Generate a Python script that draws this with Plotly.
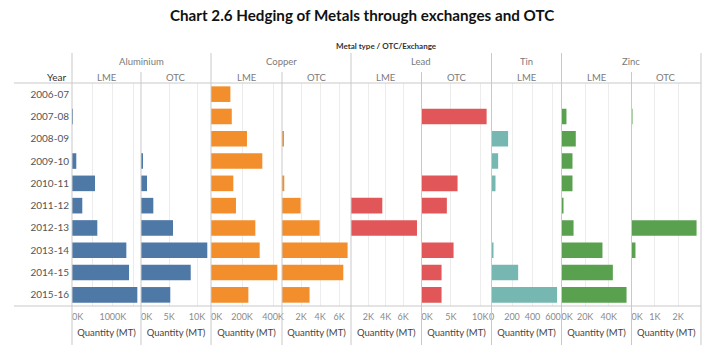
import plotly.graph_objects as go

# ---------------- data ----------------
years = ["2006-07", "2007-08", "2008-09", "2009-10", "2010-11",
         "2011-12", "2012-13", "2013-14", "2014-15", "2015-16"]

aluminium_lme = [None, 17000, None, 105000, 564000, 252000, 620000, 1331000, 1397000, 1600000]
aluminium_otc = [None, None, None, 230, 1070, 2200, 5710, 11840, 8880, 5230]
copper_lme = [125000, 134000, 232000, 331000, 144000, 161000, 286000, 314000, 428000, 241000]
copper_otc = [None, None, 170, None, 240, 1960, 3960, 6900, 6450, 2900]
lead_lme = [None, None, None, None, None, 3610, 7610, None, None, None]
lead_otc = [None, 11070, None, None, 6130, 4310, None, 5450, 3410, 3410]
tin_lme = [None, None, 162, 65, 39, None, None, 13, 260, 640]
zinc_lme = [None, 4200, 12100, 9300, 9300, 1700, 10200, 34700, 43500, 55100]
zinc_otc = [None, 40, None, None, None, None, 2790, 170, None, None]

metals = ["Aluminium", "Copper", "Lead", "Tin", "Zinc"]
exchanges = ["LME", "OTC", "LME", "OTC", "LME", "OTC", "LME", "LME", "OTC"]
panel_metal = [0, 0, 1, 1, 2, 2, 3, 4, 4]
panel_values = [aluminium_lme, aluminium_otc, copper_lme, copper_otc,
                lead_lme, lead_otc, tin_lme, zinc_lme, zinc_otc]
metal_colors = ["#4E79A7", "#F28E2B", "#E15759", "#76B7B2", "#59A14F"]

axis_max = [1690000, 12500, 458000, 7260, 8130, 11900, 683, 59300, 2980]
# centred tick labels
tick_vals = [[1000000], [5000, 10000], [200000, 400000],
             [2000, 4000, 6000], [2000, 4000, 6000], [5000, 10000],
             [0, 200, 400, 600], [20000, 40000], [1000, 2000]]
tick_text = [["1000K"], ["5K", "10K"], ["200K", "400K"],
             ["2K", "4K", "6K"], ["2K", "4K", "6K"], ["5K", "10K"],
             ["0", "200", "400", "600"], ["20K", "40K"], ["1K", "2K"]]
# panels whose zero label sits just inside the panel edge
zero_label = [True, True, True, False, False, True, False, True, True]
zero_text = "0K"
minor_grid = {0: [500000, 1500000]}

axis_title = "Quantity (MT)"
title_text = "Chart 2.6 Hedging of Metals through exchanges and OTC"
header_text = "Metal type / OTC/Exchange"

# ---------------- layout geometry (pixels) ----------------
W, H = 724, 358
bounds = [72, 141, 211, 282, 351, 421.5, 491.5, 561.5, 631.5, 701]
plot_top, plot_bottom = 83, 306


def px(x):
    return x / W


def py(y):
    return 1 - y / H


fig = go.Figure()

grid_col = "#ececec"
sep_col = "#c9c9c9"
font_fam = "Lato, 'Noto Sans', sans-serif"
tick_font = dict(family=font_fam, size=9, color="#8a8a8a")

for i in range(9):
    ax = "" if i == 0 else str(i + 1)
    fig.add_trace(go.Bar(
        y=years, x=panel_values[i], orientation="h",
        marker=dict(color=metal_colors[panel_metal[i]], line=dict(width=0)),
        width=0.7, xaxis="x" + ax, yaxis="y", showlegend=False,
        hoverinfo="x+y",
    ))
    xa = dict(
        domain=[px(bounds[i]), px(bounds[i + 1])],
        range=[0, axis_max[i]], anchor="y", automargin=False,
        showgrid=True, gridcolor=grid_col, gridwidth=1,
        zeroline=False, showline=False, ticks="",
        tickvals=tick_vals[i], ticktext=tick_text[i],
        tickfont=tick_font, ticklabelstandoff=4,
        title=dict(text=axis_title, standoff=8,
                   font=dict(family=font_fam, size=9.5, color="#444444")),
        fixedrange=True,
    )
    if i in minor_grid:
        xa["minor"] = dict(tickvals=minor_grid[i], showgrid=True,
                           gridcolor=grid_col, gridwidth=1, ticks="")
    fig.layout["xaxis" + ax] = xa

# overlay axes carrying the zero label, placed to the right of the zero tick
for i in range(9):
    if not zero_label[i]:
        continue
    n = 10 + i
    base = "x" if i == 0 else "x" + str(i + 1)
    fig.layout["xaxis" + str(n)] = dict(
        overlaying=base, anchor="y", range=[0, axis_max[i]],
        domain=[px(bounds[i]), px(bounds[i + 1])], automargin=False,
        showgrid=False, zeroline=False, showline=False, ticks="",
        tickvals=[0], ticktext=[zero_text], tickfont=tick_font,
        ticklabelposition="outside right", ticklabelstandoff=4,
        side="bottom", fixedrange=True,
    )
    fig.add_trace(go.Bar(y=years, x=[None] * len(years), orientation="h",
                         xaxis="x" + str(n), yaxis="y", showlegend=False,
                         hoverinfo="skip"))

fig.update_layout(
    yaxis=dict(
        domain=[py(plot_bottom), py(plot_top)],
        type="category", categoryarray=years, automargin=False,
        range=[9.5, -0.5], showgrid=False, zeroline=False,
        showline=False, ticks="", ticklabelstandoff=2,
        tickfont=dict(family=font_fam, size=10, color="#555555"),
        fixedrange=True, anchor="x",
    ),
    width=W, height=H,
    margin=dict(l=0, r=0, t=0, b=0, autoexpand=False),
    paper_bgcolor="white", plot_bgcolor="white",
    bargap=0.3, barmode="overlay",
)

shapes = []
for yy in (plot_top, plot_bottom):
    shapes.append(dict(type="line", xref="paper", yref="paper",
                       x0=px(14), x1=px(bounds[-1]), y0=py(yy), y1=py(yy),
                       line=dict(color=sep_col, width=1)))
metal_edges = {0, 2, 4, 6, 7, 9}
for k, b in enumerate(bounds):
    top = 53 if k in metal_edges else 72
    shapes.append(dict(type="line", xref="paper", yref="paper",
                       x0=px(b), x1=px(b), y0=py(top), y1=py(345),
                       line=dict(color=sep_col, width=1)))
fig.update_layout(shapes=shapes)

ann = []
ann.append(dict(text="<b>" + title_text + "</b>", x=px(362), y=py(15),
                xref="paper", yref="paper", showarrow=False,
                xanchor="center", yanchor="middle",
                font=dict(family="Lato, sans-serif", size=15.2, color="#111111")))
ann.append(dict(text="<b>" + header_text + "</b>", x=px((bounds[0] + bounds[-1]) / 2), y=py(46),
                xref="paper", yref="paper", showarrow=False,
                xanchor="center", yanchor="middle",
                font=dict(family=font_fam, size=8, color="#333333")))
metal_spans = [(0, 2), (2, 4), (4, 6), (6, 7), (7, 9)]
for m, (a, b) in enumerate(metal_spans):
    ann.append(dict(text=metals[m], x=px((bounds[a] + bounds[b]) / 2), y=py(62),
                    xref="paper", yref="paper", showarrow=False,
                    xanchor="center", yanchor="middle",
                    font=dict(family=font_fam, size=9.5, color="#7a7a7a")))
for i in range(9):
    ann.append(dict(text=exchanges[i], x=px((bounds[i] + bounds[i + 1]) / 2), y=py(77),
                    xref="paper", yref="paper", showarrow=False,
                    xanchor="center", yanchor="middle",
                    font=dict(family=font_fam, size=9.5, color="#7a7a7a")))
ann.append(dict(text="Year", x=px(68), y=py(77), xref="paper", yref="paper",
                showarrow=False, xanchor="right", yanchor="middle",
                font=dict(family=font_fam, size=10, color="#333333")))
fig.update_layout(annotations=ann)

fig.write_html("out.html", config={"displayModeBar": False},
               post_script="document.body.style.margin='0';")
